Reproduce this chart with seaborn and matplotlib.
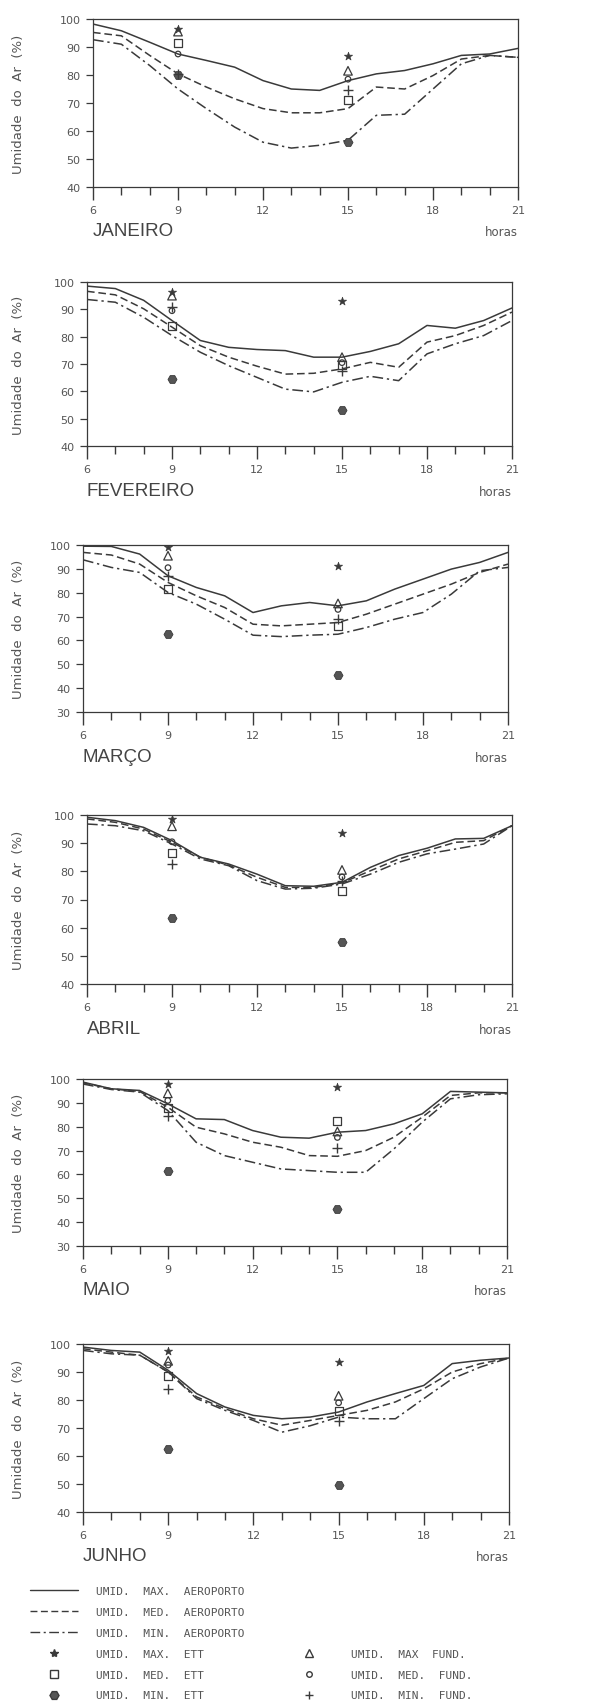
import matplotlib
matplotlib.use("Agg")
import matplotlib.pyplot as plt
from matplotlib.lines import Line2D
from matplotlib.ticker import MultipleLocator
import pandas as pd
import seaborn as sns

# ---------------- data ----------------
hours = list(range(6, 22))
obs_hours = [9, 15]
months = ["JANEIRO", "FEVEREIRO", "MARÇO", "ABRIL", "MAIO", "JUNHO"]
y_bottoms = [40, 40, 30, 40, 30, 40]

# Aeroporto hourly curves (max / med / min) per month
jan_max = [98.2, 95.8, 91.7, 87.5, 85.2, 82.8, 78.0, 75.0, 74.5, 78.0, 80.4, 81.6, 84.0, 87.0, 87.5, 89.5]
jan_med = [95.2, 94.0, 87.0, 80.4, 75.7, 71.5, 68.0, 66.5, 66.5, 68.0, 75.7, 75.0, 79.8, 85.7, 87.0, 86.3]
jan_min = [92.6, 91.0, 83.4, 75.0, 68.0, 61.4, 56.0, 53.9, 54.9, 56.7, 65.6, 66.0, 75.0, 84.0, 87.0, 86.3]

fev_max = [98.5, 97.6, 93.3, 85.9, 78.6, 76.1, 75.3, 74.9, 72.5, 72.5, 74.6, 77.4, 84.1, 83.1, 85.9, 90.5]
fev_med = [96.6, 95.3, 90.2, 83.5, 76.7, 72.5, 69.2, 66.3, 66.6, 68.2, 70.6, 68.8, 78.0, 80.4, 84.1, 89.0]
fev_min = [93.6, 92.6, 87.1, 80.4, 74.3, 69.4, 65.1, 60.8, 59.8, 63.3, 65.5, 63.9, 73.7, 77.4, 80.4, 85.9]

mar_max = [99.5, 99.4, 96.2, 87.1, 82.2, 78.7, 71.7, 74.5, 75.9, 74.5, 76.6, 81.5, 85.7, 89.9, 92.7, 96.9]
mar_med = [96.9, 95.8, 92.0, 84.3, 78.7, 73.8, 66.8, 66.1, 66.8, 67.5, 71.0, 75.2, 79.4, 83.6, 88.5, 92.0]
mar_min = [93.8, 90.6, 88.5, 80.1, 75.2, 68.9, 62.2, 61.6, 62.2, 62.6, 65.4, 68.9, 71.7, 79.4, 89.2, 90.6]

abr_max = [99.2, 98.0, 95.6, 90.9, 85.0, 82.6, 79.0, 74.9, 74.7, 76.1, 81.4, 85.6, 88.2, 91.5, 91.7, 96.2]
abr_med = [98.6, 97.4, 95.0, 90.3, 85.0, 82.2, 77.9, 74.3, 74.3, 75.9, 80.2, 84.4, 87.3, 90.3, 90.9, 96.2]
abr_min = [96.8, 96.2, 94.4, 89.7, 84.4, 82.0, 76.7, 73.7, 74.0, 75.5, 79.0, 83.2, 86.2, 87.9, 89.7, 96.2]

mai_max = [98.7, 95.9, 95.2, 89.6, 83.3, 83.0, 78.4, 75.6, 75.2, 77.7, 78.4, 81.2, 85.4, 94.8, 94.5, 94.2]
mai_med = [98.4, 95.9, 94.8, 88.2, 79.8, 77.0, 73.5, 71.4, 67.9, 67.6, 70.0, 75.6, 84.0, 93.1, 94.2, 94.2]
mai_min = [97.9, 95.6, 94.5, 86.8, 73.5, 67.9, 65.1, 62.3, 61.6, 60.9, 60.9, 70.7, 81.9, 91.7, 93.4, 93.8]

jun_max = [98.9, 97.7, 97.1, 90.6, 82.3, 77.5, 74.5, 73.3, 73.9, 75.7, 79.3, 82.3, 85.2, 93.0, 94.2, 95.0]
jun_med = [98.3, 97.1, 96.0, 90.0, 81.1, 76.9, 73.3, 71.0, 72.7, 74.5, 76.3, 79.3, 84.0, 90.0, 93.0, 95.0]
jun_min = [97.7, 96.5, 96.0, 90.0, 80.5, 76.3, 72.7, 68.5, 70.8, 73.9, 73.3, 73.3, 80.5, 87.6, 91.8, 95.0]

aero_max = [jan_max, fev_max, mar_max, abr_max, mai_max, jun_max]
aero_med = [jan_med, fev_med, mar_med, abr_med, mai_med, jun_med]
aero_min = [jan_min, fev_min, mar_min, abr_min, mai_min, jun_min]

# observations at 9h and 15h (ETT and FUND.) per month
ett_max = [[96.5, 86.7], [96.5, 93.0], [99.0, 91.0], [98.5, 93.5], [98.0, 96.5], [97.5, 93.5]]
ett_med = [[91.5, 71.0], [84.0, 69.5], [81.5, 66.0], [86.5, 73.0], [88.0, 82.5], [88.5, 76.0]]
ett_min = [[80.0, 56.0], [64.5, 53.0], [62.5, 45.5], [63.5, 55.0], [61.5, 45.5], [62.5, 49.5]]
fund_max = [[95.5, 81.5], [95.0, 72.5], [95.5, 75.5], [96.0, 80.5], [94.0, 78.0], [94.0, 81.5]]
fund_med = [[87.5, 78.5], [89.5, 70.5], [90.5, 73.0], [90.5, 78.0], [91.0, 75.5], [92.5, 79.0]]
fund_min = [[80.5, 74.5], [91.0, 67.5], [87.0, 69.0], [82.5, 76.5], [84.5, 71.0], [84.0, 72.5]]

legend_labels = ["UMID.  MAX.  AEROPORTO", "UMID.  MED.  AEROPORTO", "UMID.  MIN.  AEROPORTO",
                 "UMID.  MAX.  ETT", "UMID.  MED.  ETT", "UMID.  MIN.  ETT",
                 "UMID.  MAX  FUND.", "UMID.  MED.  FUND.", "UMID.  MIN.  FUND."]

# ---------------- layout / style ----------------
W, H = 592, 1708
# axes rectangles in pixels: left, top, right, bottom
rects_px = [(93, 20, 518, 188), (87, 283, 512, 447), (83, 546, 508, 713),
            (87, 816, 512, 985), (83, 1080, 507, 1247), (83, 1345, 509, 1513)]

sns.set_style("white")
plt.rcParams["font.family"] = ["DejaVu Sans"]
INK = "#3a3a3a"
TXT = "#555555"

DASHED = (0, (5, 2.5))
DASHDOT = (0, (7, 2.5, 1.5, 2.5))

fig = plt.figure(figsize=(W / 100, H / 100), dpi=100)

for i, (l, t, r, b) in enumerate(rects_px):
    ax = fig.add_axes([l / W, 1 - b / H, (r - l) / W, (b - t) / H])
    sns.lineplot(x=hours, y=aero_max[i], ax=ax, color=INK, linewidth=1.1, linestyle="-")
    sns.lineplot(x=hours, y=aero_med[i], ax=ax, color=INK, linewidth=1.1, linestyle=DASHED)
    sns.lineplot(x=hours, y=aero_min[i], ax=ax, color=INK, linewidth=1.1, linestyle=DASHDOT)

    sns.scatterplot(x=obs_hours, y=ett_max[i], ax=ax, marker="*", s=38, color=INK, edgecolor=INK, linewidth=0.5, zorder=4)
    sns.scatterplot(x=obs_hours, y=ett_med[i], ax=ax, marker="s", s=32, color=INK, facecolor="none", edgecolor=INK, linewidth=0.9, zorder=4)
    sns.scatterplot(x=obs_hours, y=ett_min[i], ax=ax, marker="H", s=42, color="#555555", edgecolor=INK, linewidth=0.6, zorder=4)
    sns.scatterplot(x=obs_hours, y=fund_max[i], ax=ax, marker="^", s=38, color=INK, facecolor="none", edgecolor=INK, linewidth=0.9, zorder=4)
    sns.scatterplot(x=obs_hours, y=fund_med[i], ax=ax, marker="o", s=16, color=INK, facecolor="none", edgecolor=INK, linewidth=0.9, zorder=4)
    sns.scatterplot(x=obs_hours, y=fund_min[i], ax=ax, marker="+", s=45, color=INK, linewidth=1.0, zorder=4)

    ax.set_xlim(6, 21)
    ax.set_ylim(y_bottoms[i], 100)
    ax.xaxis.set_major_locator(MultipleLocator(3))
    ax.xaxis.set_minor_locator(MultipleLocator(1))
    ax.yaxis.set_major_locator(MultipleLocator(10))
    ax.tick_params(axis="x", which="major", bottom=True, direction="out", length=9, width=1.0,
                   color=INK, labelsize=8, labelcolor=TXT, pad=4)
    ax.tick_params(axis="x", which="minor", bottom=True, direction="out", length=6, width=1.0,
                   color=INK)
    ax.tick_params(axis="y", which="major", left=True, direction="out", length=5, width=0.9,
                   color=INK, labelsize=8, labelcolor=TXT, pad=4)
    for sp in ax.spines.values():
        sp.set_color(INK)
        sp.set_linewidth(0.9)
    ax.set_xlabel("")
    ax.set_ylabel("Umidade  do  Ar  (%)", fontsize=9.5, color=TXT)
    ax.yaxis.set_label_coords(-(l - 25) / (r - l), 0.5)

    ax.annotate(months[i], xy=(0, 0), xycoords="axes fraction", xytext=(0, -44),
                textcoords="offset pixels", ha="left", va="center",
                fontsize=13.5, color="#444444", family="Liberation Sans")
    ax.annotate("horas", xy=(1, 0), xycoords="axes fraction", xytext=(0, -45),
                textcoords="offset pixels", ha="right", va="center",
                fontsize=8.5, color=TXT)

# ---------------- legend ----------------
handles = [
    Line2D([], [], color=INK, linewidth=1.0, linestyle="-"),
    Line2D([], [], color=INK, linewidth=1.0, linestyle=DASHED),
    Line2D([], [], color=INK, linewidth=1.0, linestyle=DASHDOT),
    Line2D([], [], color=INK, marker="*", markersize=6, linestyle="none"),
    Line2D([], [], color=INK, marker="s", markersize=5.5, markerfacecolor="none", linestyle="none"),
    Line2D([], [], color=INK, marker="H", markersize=6.5, markerfacecolor="#555555", linestyle="none"),
    Line2D([], [], linestyle="none"),
    Line2D([], [], linestyle="none"),
    Line2D([], [], linestyle="none"),
    Line2D([], [], color=INK, marker="^", markersize=6, markerfacecolor="none", linestyle="none"),
    Line2D([], [], color=INK, marker="o", markersize=4, markerfacecolor="none", linestyle="none"),
    Line2D([], [], color=INK, marker="+", markersize=6, linestyle="none"),
]
labels = legend_labels[:6] + ["", "", ""] + legend_labels[6:]
leg = fig.legend(handles, labels, loc="upper left", bbox_to_anchor=(30 / W, 1 - 1587 / H),
                 ncol=2, frameon=False, borderpad=0, borderaxespad=0,
                 handlelength=4.3, handletextpad=1.6, columnspacing=3.7,
                 labelspacing=0.98, prop={"family": "DejaVu Sans Mono", "size": 8})
for txt in leg.get_texts():
    txt.set_color(TXT)

fig.savefig("out.png", dpi=100, facecolor="white")
